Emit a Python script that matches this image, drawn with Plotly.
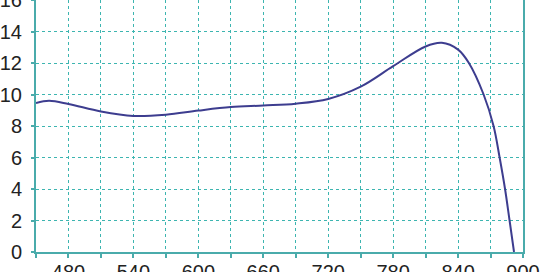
import plotly.graph_objects as go

wavelength = [450, 462, 480, 510, 540, 570, 600, 630, 660, 690, 720, 750, 780, 810, 825, 840, 850, 863.6, 872.8, 878.4, 883.4, 887.6, 891.7]
values = [9.45, 9.6, 9.4, 8.92, 8.64, 8.72, 8.98, 9.2, 9.3, 9.42, 9.72, 10.5, 11.8, 13.05, 13.28, 12.85, 12.0, 10.0, 8.0, 6.0, 4.0, 2.0, 0.0]

x_ticks = list(range(450, 901, 30))
x_labels = [str(v) if (v - 480) % 60 == 0 else "" for v in x_ticks]
y_ticks = list(range(0, 17, 2))

axis_col = "#4aabab"
grid_col = "#3db5b0"
tick_font = dict(family="Liberation Sans, Arial, sans-serif", size=20, color="#222222")

fig = go.Figure(go.Scatter(
    x=wavelength, y=values, mode="lines",
    line=dict(color="#3d3d8f", width=2, shape="spline", smoothing=1.0),
    hoverinfo="skip",
))

fig.update_layout(
    width=540, height=272,
    margin=dict(l=36, r=17, t=0, b=20, pad=0),
    paper_bgcolor="white", plot_bgcolor="white",
    showlegend=False,
    font=tick_font,
)
fig.update_xaxes(
    range=[450, 900], tickvals=x_ticks, ticktext=x_labels, tickfont=tick_font,
    ticklabeloverflow="allow",
    showgrid=True, gridcolor=grid_col, griddash="dot", gridwidth=1.3,
    showline=True, linecolor=axis_col, linewidth=2, mirror=True,
    ticks="outside", ticklen=4, tickcolor=axis_col, tickwidth=1.5,
    ticklabelstandoff=-3,
    zeroline=False, automargin=False,
)
fig.update_yaxes(
    range=[0, 16], tickvals=y_ticks, tickfont=tick_font,
    ticklabeloverflow="allow",
    showgrid=True, gridcolor=grid_col, griddash="dot", gridwidth=1.3,
    showline=True, linecolor=axis_col, linewidth=2, mirror=True,
    ticks="outside", ticklen=3, tickcolor=axis_col, tickwidth=1.5,
    ticklabelstandoff=5,
    zeroline=False, automargin=False,
)

fig.write_html("out.html")
